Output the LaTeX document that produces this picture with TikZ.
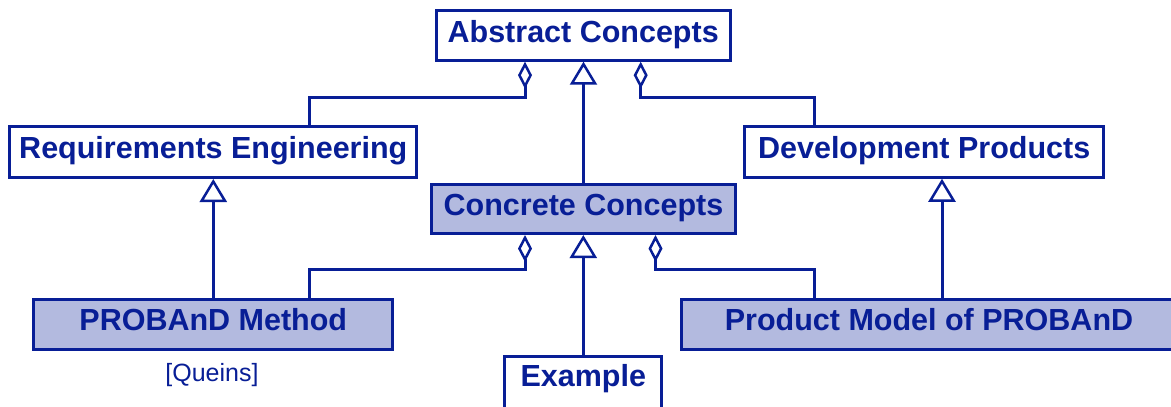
\documentclass[tikz,border=0pt]{standalone}
\usepackage{fontspec}
\setmainfont{Liberation Sans}
\usetikzlibrary{arrows.meta}
\definecolor{umlblue}{RGB}{8,30,150}
\definecolor{umlfill}{RGB}{179,186,223}
\begin{document}
\begin{tikzpicture}[x=1pt,y=-1pt,
  box/.style={draw=umlblue, line width=3pt, text=umlblue, fill=white,
    font=\fontsize{30.5}{36}\selectfont\bfseries, inner sep=0pt,
    text height=20pt, text depth=7pt},
  concrete/.style={box, fill=umlfill},
  link/.style={draw=umlblue, line width=3pt},
  inh/.style={link, -{Triangle[open, length=23pt, width=27pt, line width=2.5pt]}},
  agg/.style={link, -{Diamond[open, length=27pt, width=14pt, line width=2.5pt]}},
  note/.style={text=umlblue, font=\fontsize{25}{30}\selectfont, inner sep=0pt}
]
\useasboundingbox (0,0) rectangle (1171,407);

\node[box, minimum width=294pt, minimum height=49.4pt] (abs) at (583.2,35.5) {Abstract Concepts};
\node[box, minimum width=407pt, minimum height=51pt] (req) at (213.3,152) {Requirements Engineering};
\node[box, minimum width=358.7pt, minimum height=50.7pt] (dev) at (924.2,151.9) {Development Products};
\node[concrete, minimum width=304pt, minimum height=48.7pt] (con) at (583.5,209.2) {Concrete Concepts};
\node[concrete, minimum width=359pt, minimum height=50.3pt] (pm) at (213.3,324.3) {PROBAnD Method};
\node[concrete, minimum width=496pt, minimum height=50pt] (prod) at (929,324.2) {Product Model of PROBAnD};
\node[box, minimum width=157pt, text height=30pt, text depth=25pt, anchor=base] (ex) at (583.3,386.7) {Example};
\node[note, anchor=base] (qn) at (212,381) {[Queins]};

\draw[agg] ([xshift=96pt]req.north) -- ++(0,-28) -| ([xshift=-58.2pt]abs.south);
\draw[agg] ([xshift=-110pt]dev.north) -- ++(0,-28) -| ([xshift=57.5pt]abs.south);
\draw[inh] (con.north) -- (con.north |- abs.south);
\draw[inh] (pm.north) -- (pm.north |- req.south);
\draw[agg] ([xshift=96pt]pm.north) -- ++(0,-28) -| ([xshift=-58.5pt]con.south);
\draw[inh] (ex.north) -- (ex.north |- con.south);
\draw[agg] ([xshift=-115pt]prod.north) -- ++(0,-28) -| ([xshift=72pt]con.south);
\draw[inh] ([xshift=13pt]prod.north) -- ([xshift=13pt]prod.north |- dev.south);
\end{tikzpicture}
\end{document}
